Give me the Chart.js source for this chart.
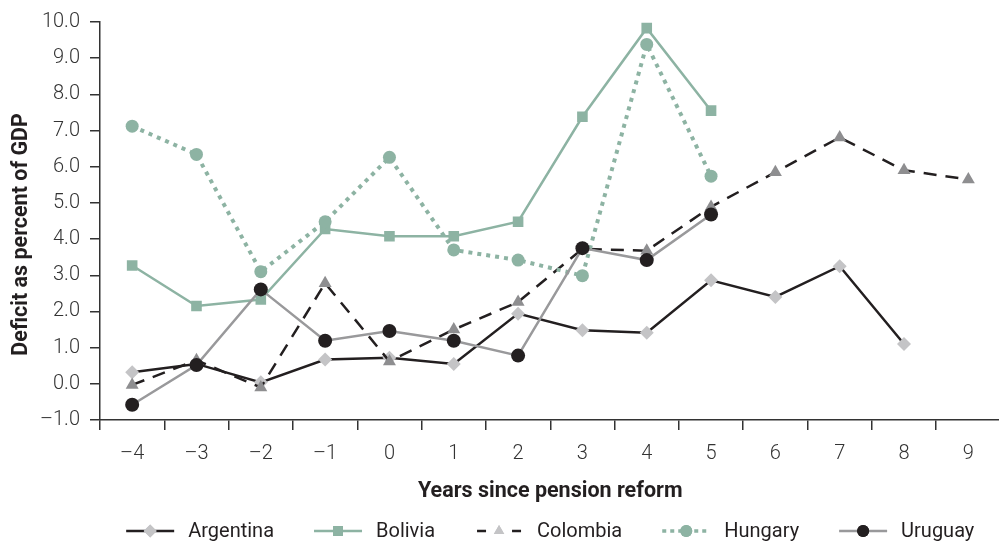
<!DOCTYPE html>
<html>
<head>
<meta charset="utf-8">
<script src="https://cdn.jsdelivr.net/npm/chart.js@4/dist/chart.umd.min.js"></script>
<style>
  html, body { margin: 0; padding: 0; background: #fff; overflow: hidden; }
  #wrap { width: 1008px; height: 546px; }
</style>
</head>
<body>
<div id="wrap"><canvas id="c"></canvas></div>
<script>
// roky od reformy
const years = [-4, -3, -2, -1, 0, 1, 2, 3, 4, 5, 6, 7, 8, 9];
const yTicks = [-1, 0, 1, 2, 3, 4, 5, 6, 7, 8, 9, 10];

const argentina = [0.32, 0.55, 0.04, 0.67, 0.72, 0.55, 1.94, 1.48, 1.41, 2.86, 2.40, 3.25, 1.10, null];
const bolivia   = [3.27, 2.15, 2.33, 4.28, 4.08, 4.08, 4.48, 7.38, 9.83, 7.55, null, null, null, null];
const colombia  = [-0.03, 0.65, -0.10, 2.78, 0.62, 1.50, 2.26, 3.73, 3.68, 4.89, 5.85, 6.81, 5.90, 5.65];
const hungary   = [7.12, 6.34, 3.10, 4.48, 6.26, 3.70, 3.42, 2.99, 9.38, 5.74, null, null, null, null];
const uruguay   = [-0.58, 0.52, 2.61, 1.19, 1.46, 1.19, 0.78, 3.75, 3.42, 4.68, null, null, null, null];

const FONT = "Roboto, 'Liberation Sans', sans-serif";
const TEAL = "#8db3a3";
const INK = "#231f20";
const fmtMinus = s => String(s).replace("-", "\u2013");

// vzhled legendy: čára + značka (jen styl, žádná data)
const legendLook = [
  { line: INK, dash: [], w: 2.5, style: "rectRot", fill: "#c4c4c6", r: 6.5 },
  { line: TEAL, dash: [], w: 2.5, style: "rect", fill: TEAL, r: 7 },
  { line: INK, dash: [9, 26], w: 2.5, style: "triangle", fill: "#c4c4c6", r: 6 },
  { line: TEAL, dash: [4, 4], w: 3.5, style: "circle", fill: TEAL, r: 6 },
  { line: "#99999b", dash: [], w: 2.5, style: "circle", fill: INK, r: 6 }
];

const lineLegend = {
  id: "lineLegend",
  afterDraw(chart) {
    const ctx = chart.ctx;
    const sample = 48, gapText = 14, gapItem = 40;
    ctx.save();
    ctx.font = "20px " + FONT;
    const items = chart.data.datasets.map((d, i) => ({ d, look: legendLook[i], tw: ctx.measureText(d.label).width }));
    const total = items.reduce((a, it) => a + sample + gapText + it.tw, 0) + gapItem * (items.length - 1);
    const area = chart.chartArea;
    let x = (area.left + area.right) / 2 - total / 2;
    const y = 531;
    items.forEach(it => {
      const L = it.look;
      ctx.strokeStyle = L.line; ctx.lineWidth = L.w; ctx.setLineDash(L.dash);
      ctx.lineDashOffset = L.style === "triangle" ? -2 : 0;
      ctx.beginPath(); ctx.moveTo(x, y); ctx.lineTo(x + sample, y); ctx.stroke();
      ctx.setLineDash([]);
      ctx.fillStyle = L.fill;
      Chart.helpers.drawPoint(ctx, { pointStyle: L.style, radius: L.r, borderWidth: 0, rotation: 0 }, x + sample / 2, y);
      ctx.fill();
      ctx.fillStyle = INK; ctx.textBaseline = "middle"; ctx.textAlign = "left";
      ctx.fillText(it.d.label, x + sample + gapText, y + 1);
      x += sample + gapText + it.tw + gapItem;
    });
    ctx.restore();
  }
};

function ds(label, data, o) {
  return Object.assign({
    label, data,
    borderWidth: 2.5,
    pointBorderWidth: 0,
    pointHoverRadius: 7,
    tension: 0
  }, o);
}

const datasets = [
  ds("Argentina", argentina, { borderColor: INK, pointBackgroundColor: "#c4c4c6", pointStyle: "rectRot", pointRadius: 7, order: 5 }),
  ds("Bolivia", bolivia, { borderColor: TEAL, pointBackgroundColor: TEAL, pointStyle: "rect", pointRadius: 7.5, order: 4 }),
  ds("Colombia", colombia, { borderColor: INK, borderDash: [13, 9], pointBackgroundColor: "#8e8e90", pointStyle: "triangle", pointRadius: 7.5, order: 3 }),
  ds("Hungary", hungary, { borderColor: TEAL, borderWidth: 4, borderDash: [4, 5], pointBackgroundColor: TEAL, pointStyle: "circle", pointRadius: 6.5, order: 2 }),
  ds("Uruguay", uruguay, { borderColor: "#99999b", pointBackgroundColor: INK, pointStyle: "circle", pointRadius: 7, order: 1 })
];

new Chart(document.getElementById("c"), {
  type: "line",
  data: { labels: years, datasets },
  plugins: [lineLegend],
  options: {
    responsive: true, maintainAspectRatio: false, animation: false,
    layout: { padding: { top: 20, right: 0, left: 0, bottom: 41 } },
    plugins: {
      legend: { display: false },
      tooltip: { enabled: true }
    },
    scales: {
      x: {
        type: "category", offset: true,
        grid: { display: true, drawOnChartArea: false, drawTicks: true, tickLength: 10, color: "#333", lineWidth: 1.5, offset: true },
        border: { color: "#333", width: 1.5 },
        ticks: { color: "#333", font: { family: FONT, size: 20, weight: 300 }, padding: 12, callback: function (v) { return fmtMinus(this.getLabelForValue(v)); } },
        title: { display: true, text: "Years since pension reform", color: INK, font: { family: FONT, size: 21.5, weight: "bold" }, padding: { top: 0, bottom: 0 } },
        afterFit: s => { s.height = 85; s.paddingLeft = 0; s.paddingRight = 0; }
      },
      y: {
        min: -1, max: 10,
        afterBuildTicks: s => { s.ticks = yTicks.map(v => ({ value: v })); },
        grid: { display: true, drawOnChartArea: false, drawTicks: true, tickLength: 10, color: "#333", lineWidth: 1.5 },
        border: { color: "#333", width: 1.5 },
        ticks: { color: "#333", font: { family: FONT, size: 20, weight: 300 }, padding: 10, callback: v => fmtMinus(v.toFixed(1)) },
        title: { display: true, text: "Deficit as percent of GDP     ", color: INK, font: { family: FONT, size: 21.5, weight: "bold" }, padding: { top: 9, bottom: 0 } },
        afterFit: s => { s.width = 100; }
      }
    }
  }
});
</script>
</body>
</html>
